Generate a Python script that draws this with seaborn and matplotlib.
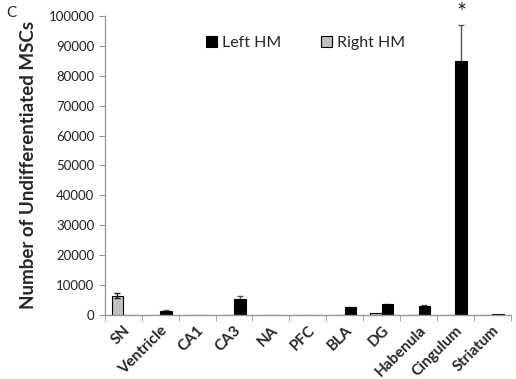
import pandas as pd
import matplotlib.pyplot as plt
import seaborn as sns
import numpy as np

regions = ['SN', 'Ventricle', 'CA1', 'CA3', 'NA', 'PFC', 'BLA', 'DG',
           'Habenula', 'Cingulum', 'Striatum']
left_hm = [0, 1300, 0, 5300, 150, 120, 2500, 3500, 3000, 84800, 200]
left_err = [0, 200, 0, 1000, 0, 0, 200, 300, 250, 12000, 0]
right_hm = [6500, 0, 0, 0, 0, 0, 0, 800, 0, 0, 0]
right_err = [900, 0, 0, 0, 0, 0, 0, 0, 0, 0, 0]

df = pd.DataFrame({
    'region': regions * 2,
    'side': ['Right HM'] * len(regions) + ['Left HM'] * len(regions),
    'value': right_hm + left_hm,
    'err': right_err + left_err,
})

sns.set_style('white')
plt.rcParams['font.family'] = ['Lato', 'DejaVu Sans']

fig = plt.figure(figsize=(5.16, 3.79), dpi=100)
ax = fig.add_axes([0.203, 0.169, 0.787, 0.789])

pal = {'Right HM': '#c0c0c0', 'Left HM': '#000000'}
sns.barplot(data=df, x='region', y='value', hue='side',
            hue_order=['Right HM', 'Left HM'], palette=pal,
            width=0.63, edgecolor='black', linewidth=0.8,
            errorbar=None, ax=ax)

# error bars at the bar centres (Right HM bars first, then Left HM)
bars = ax.patches[:2 * len(regions)]
sides = ['Right HM'] * len(regions) + ['Left HM'] * len(regions)
for p, v, e, s in zip(bars, right_hm + left_hm, right_err + left_err, sides):
    if e > 0:
        ax.errorbar(p.get_x() + p.get_width() / 2, v, yerr=e,
                    fmt='none', ecolor='#222222' if s == 'Right HM' else '#555555',
                    elinewidth=1, capsize=2.5, capthick=1,
                    zorder=3 if s == 'Right HM' else 0.5)

ax.text(9 + 0.16, 97500, '*', ha='center', va='bottom', fontsize=17)

ax.set_ylim(0, 100000)
ax.set_xlim(-0.5, len(regions) - 0.5)
ax.set_yticks(np.arange(0, 100001, 10000))
ax.tick_params(axis='y', labelsize=9.5, labelcolor='#222222',
               direction='out', length=4, color='#999999', left=True)
ax.set_xticks(np.arange(len(regions)))
ax.set_xticklabels(regions, rotation=45, ha='right', rotation_mode='anchor',
                   fontsize=11, fontweight='bold')
ax.tick_params(axis='x', which='major', length=0, pad=6)
ax.set_xticks(np.arange(len(regions) + 1) - 0.5, minor=True)
ax.tick_params(axis='x', which='minor', direction='out', length=4,
               color='#999999', bottom=True)

for s in ['top', 'right']:
    ax.spines[s].set_visible(False)
for s in ['left', 'bottom']:
    ax.spines[s].set_color('#999999')
    ax.spines[s].set_linewidth(1)

ax.set_xlabel('')
ax.set_ylabel('Number of Undifferentiated MSCs', fontsize=13.5,
              fontweight='bold', labelpad=8)

h, l = ax.get_legend_handles_labels()
order = [l.index('Left HM'), l.index('Right HM')]
ax.legend([h[i] for i in order], [l[i] for i in order], ncol=2,
          frameon=False, loc='center', bbox_to_anchor=(0.495, 0.91),
          fontsize=11.5, handlelength=0.7, handleheight=0.7,
          columnspacing=2.5, handletextpad=0.3)

fig.text(0.012, 0.955, 'C', fontsize=11)

fig.savefig('out.png', dpi=100)
